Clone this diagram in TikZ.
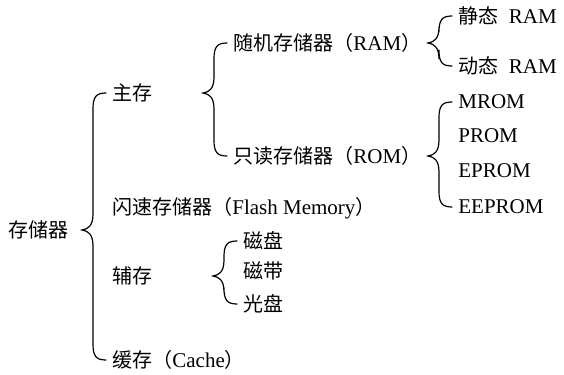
\documentclass[tikz,border=0pt]{standalone}
\usepackage{fontspec}
\setmainfont{Liberation Serif}[Scale=1.05]
\newfontfamily\cjk{Noto Sans CJK SC}
\usepackage{tikz}
\usetikzlibrary{calc}

\newcommand{\zh}[1]{{\cjk #1}}
% brace from parent (tip) to first and last child
\newcommand{\treebrace}[3]{%
  \draw[brace] let \p1=(#1.east), \p2=(#2.west), \p3=(#3.west) in
    (\x2-3pt,\y2) .. controls (\x2-8pt,\y2) and (\x2-9.5pt,\y2-2pt) .. (\x2-9.5pt,\y2-8pt)
    -- (\x2-9.5pt,\y1+8pt) .. controls (\x2-9.5pt,\y1+2pt) and (\x2-12pt,\y1+0.5pt) .. (\x2-15pt,\y1)
    .. controls (\x2-12pt,\y1-0.5pt) and (\x2-9.5pt,\y1-2pt) .. (\x2-9.5pt,\y1-8pt)
    -- (\x2-9.5pt,\y3+8pt) .. controls (\x2-9.5pt,\y3+2pt) and (\x3-8pt,\y3) .. (\x3-3pt,\y3);}

\begin{document}
\begin{tikzpicture}[x=0.5pt, y=-0.5pt,
    item/.style={anchor=west, inner sep=0pt, font=\fontsize{10pt}{12pt}\selectfont},
    brace/.style={draw, line width=0.6pt, line cap=round}]
  \useasboundingbox (0,0) rectangle (564,375);
  % level 1
  \node[item] (store) at (8,230)   {\zh{存储器}};
  % level 2
  \node[item] (main)  at (112,93)  {\zh{主存}};
  \node[item] (flash) at (112,208) {\zh{闪速存储器（}Flash Memory\zh{）}};
  \node[item] (aux)   at (112,276) {\zh{辅存}};
  \node[item] (cache) at (112,360) {\zh{缓存（}Cache\zh{）}};
  % level 3
  \node[item] (ram)   at (233,43)  {\zh{随机存储器（}RAM\zh{）}};
  \node[item] (rom)   at (233,156) {\zh{只读存储器（}ROM\zh{）}};
  \node[item] (disk)  at (243,241) {\zh{磁盘}};
  \node[item] (tape)  at (243,271) {\zh{磁带}};
  \node[item] (cd)    at (243,304) {\zh{光盘}};
  % level 4
  \node[item] (sram)   at (458,16)  {\zh{静态}\enspace RAM};
  \node[item] (dram)   at (458,66)  {\zh{动态}\enspace RAM};
  \node[item] (mrom)   at (458,102) {MROM};
  \node[item] (prom)   at (458,136) {PROM};
  \node[item] (eprom)  at (458,171) {EPROM};
  \node[item] (eeprom) at (458,207) {EEPROM};
  % braces
  \treebrace{store}{main}{cache}
  \treebrace{main}{ram}{rom}
  \treebrace{aux}{disk}{cd}
  \treebrace{ram}{sram}{dram}
  \treebrace{rom}{mrom}{eeprom}
\end{tikzpicture}
\end{document}
